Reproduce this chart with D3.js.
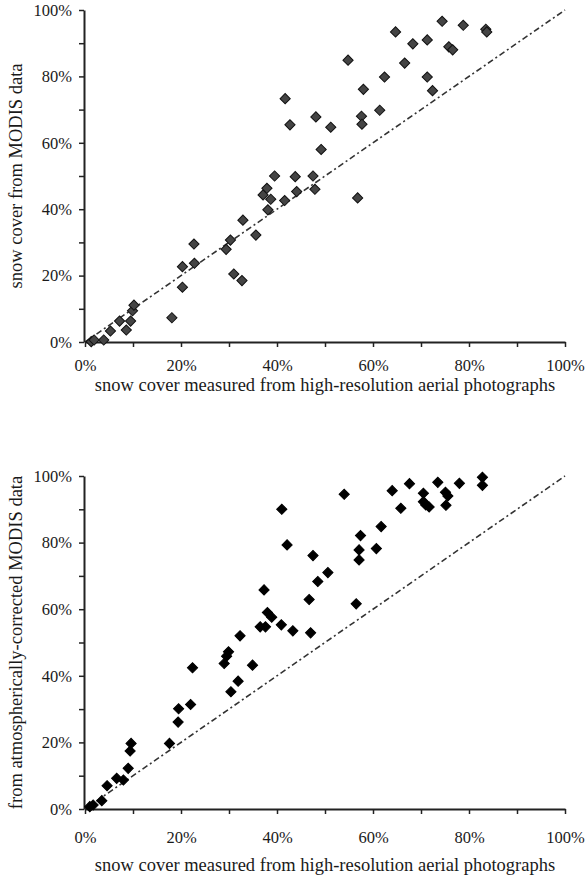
<html lang="en">
<head>
    <title>Snow cover comparison</title>
    <meta charset="utf-8">
    <script src="https://cdn.jsdelivr.net/npm/d3@7/dist/d3.min.js"></script>
    <style>
        body { margin: 0; background: #fff; }
        svg text { font-family: "Liberation Serif", "Times New Roman", "DejaVu Serif", serif !important; fill: #1a1a1a; }
    </style>
</head>
<body></body>

<script type="text/javascript">

    // top panel: MODIS snow cover vs aerial photo snow cover (percent)
    const topPoints = [
        [1.3, 0.1], [1.9, 0.6], [3.9, 0.6], [5.3, 3.3], [8.6, 3.6], [7.2, 6.3], [9.5, 6.3],
        [9.9, 9.4], [10.2, 11.1], [18.1, 7.3], [20.3, 16.5], [20.3, 22.7], [22.8, 23.7],
        [22.7, 29.5], [29.4, 27.9], [30.3, 30.7], [31.0, 20.5], [32.7, 18.5], [32.9, 36.7],
        [35.6, 32.2], [37.1, 44.3], [37.9, 46.3], [38.1, 39.8], [38.7, 43.0], [39.5, 50.0],
        [41.6, 42.6], [41.7, 73.3], [42.7, 65.4], [43.8, 49.8], [44.1, 45.3], [47.5, 50.0],
        [47.9, 46.0], [48.1, 67.8], [49.2, 58.0], [51.2, 64.7], [54.8, 84.9], [56.8, 43.4],
        [57.6, 68.0], [57.7, 65.6], [58.0, 76.1], [61.4, 69.8], [62.4, 79.8], [64.7, 93.4],
        [66.6, 84.0], [68.3, 89.8], [71.3, 91.0], [71.3, 79.8], [72.4, 75.7], [74.4, 96.6],
        [75.8, 88.9], [76.6, 88.0], [78.8, 95.4], [83.5, 94.2], [83.7, 93.4]
    ];

    // bottom panel: atmospherically-corrected MODIS vs aerial photo snow cover (percent)
    const bottomPoints = [
        [1.0, 0.7], [1.7, 1.2], [3.5, 2.5], [4.6, 7.0], [6.6, 9.2], [8.0, 8.7], [9.0, 12.2],
        [9.4, 17.4], [9.6, 19.7], [17.6, 19.7], [19.4, 26.1], [19.5, 30.1], [22.0, 31.4],
        [22.4, 42.4], [29.0, 43.7], [29.5, 45.9], [29.9, 47.2], [30.4, 35.2], [31.9, 38.4],
        [32.3, 52.0], [34.9, 43.2], [36.5, 54.7], [37.6, 54.7], [37.3, 65.8], [38.0, 59.0],
        [38.9, 57.6], [40.9, 55.3], [41.0, 90.0], [42.1, 79.3], [43.3, 53.5], [46.7, 62.9],
        [47.0, 52.9], [47.5, 76.1], [48.5, 68.3], [50.6, 71.0], [54.0, 94.5], [56.5, 61.6],
        [57.1, 74.8], [57.1, 77.8], [57.4, 82.1], [60.7, 78.2], [61.7, 84.8], [64.0, 95.6],
        [65.8, 90.3], [67.6, 97.7], [70.5, 94.8], [70.5, 92.3], [71.0, 91.3], [71.7, 90.7],
        [73.5, 98.1], [75.1, 95.1], [75.6, 94.0], [75.2, 91.2], [78.0, 97.8], [82.8, 99.6],
        [82.8, 97.2]
    ];

    const tickValues = [0, 10, 20, 30, 40, 50, 60, 70, 80, 90, 100];
    const xTitle = "snow cover measured from high-resolution aerial photographs";
    const topYTitle = "snow cover from MODIS data";
    const bottomYTitle = "from atmospherically-corrected MODIS data";

    const svg = d3.select("body")
        .append("svg")
        .attr("width", 585)
        .attr("height", 881)
        .attr("font-family", "Liberation Serif");

    const pctFormat = d => (d % 20 === 0 ? d + "%" : "");

    function drawPanel(points, yTitle, top, bottom, labelPad, titleGap, fill, stroke) {
        const x = d3.scaleLinear().domain([0, 100]).range([85, 565]);
        const y = d3.scaleLinear().domain([0, 100]).range([bottom, top]);

        const g = svg.append("g");

        // 1:1 reference line
        g.append("line")
            .attr("x1", x(0)).attr("y1", y(0))
            .attr("x2", x(100)).attr("y2", y(100))
            .attr("stroke", "#333")
            .attr("stroke-width", 1.6)
            .attr("stroke-dasharray", "6,3,2,3");

        const xAxis = g.append("g")
            .attr("transform", `translate(0,${bottom})`)
            .call(d3.axisBottom(x).tickValues(tickValues).tickFormat(pctFormat)
                .tickSize(5).tickSizeOuter(0).tickPadding(labelPad));

        const yAxis = g.append("g")
            .attr("transform", `translate(${x(0) - 1},0)`)
            .call(d3.axisLeft(y).tickValues(tickValues).tickFormat(pctFormat)
                .tickSize(5).tickSizeOuter(0).tickPadding(7));

        [xAxis, yAxis].forEach(a => {
            a.attr("font-family", null);
            a.select(".domain").attr("stroke", "#222").attr("stroke-width", 2);
            a.selectAll(".tick line").attr("stroke", "#222").attr("stroke-width", 1.5);
            a.selectAll(".tick text")
                .style("font-size", "16.5px")
                .attr("fill", "#1a1a1a");
        });

        g.append("text")
            .attr("x", (x(0) + x(100)) / 2)
            .attr("y", bottom + titleGap)
            .attr("text-anchor", "middle")
            .style("font-size", "18.5px")
            .text(xTitle);

        g.append("text")
            .attr("transform", `translate(22,${(top + bottom) / 2}) rotate(-90)`)
            .attr("text-anchor", "middle")
            .style("font-size", "18.5px")
            .text(yTitle);

        const diamond = d3.symbol().type(d3.symbolSquare).size(52);

        g.selectAll("path.pt")
            .data(points)
            .join("path")
            .attr("class", "pt")
            .attr("d", diamond)
            .attr("transform", d => `translate(${x(d[0])},${y(d[1])}) rotate(45)`)
            .attr("fill", fill)
            .attr("stroke", stroke)
            .attr("stroke-width", 1);
    }

    drawPanel(topPoints, topYTitle, 10, 342, 12, 49, "#444", "#111");
    drawPanel(bottomPoints, bottomYTitle, 476, 809, 17, 62, "#000", "#000");

</script>
</html>
